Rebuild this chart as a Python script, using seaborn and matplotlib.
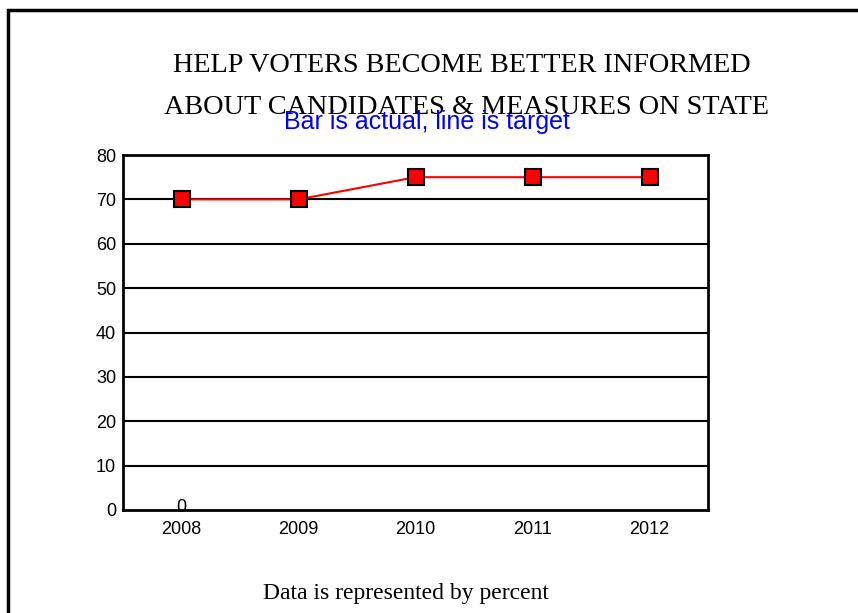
import numpy as np
import pandas as pd
import matplotlib
matplotlib.use("Agg")
import matplotlib.pyplot as plt
from matplotlib.patches import Rectangle
import seaborn as sns

years = ["2008", "2009", "2010", "2011", "2012"]
actual = [0, np.nan, np.nan, np.nan, np.nan]
target = [70, 70, 75, 75, 75]
yticks = [0, 10, 20, 30, 40, 50, 60, 70, 80]

title_lines = ["HELP VOTERS BECOME BETTER INFORMED", "ABOUT CANDIDATES & MEASURES ON STATE"]
subtitle = "Bar is actual, line is target"
footnote = "Data is represented by percent"

sns.set_theme(style="white")
plt.rcParams['font.family'] = ['Liberation Sans', 'DejaVu Sans']

W, H = 858, 613
fig = plt.figure(figsize=(W / 100, H / 100), dpi=100)
ax = fig.add_axes([123 / W, 1 - 510 / H, (708 - 123) / W, (510 - 155) / H])

df = pd.DataFrame({"year": years, "actual": actual, "target": target, "pos": np.arange(len(years))})

sns.barplot(data=df, x="pos", y="actual", color="#3333cc", ax=ax, width=0.5, native_scale=True)
sns.lineplot(data=df, x="pos", y="target", ax=ax, color="red", lw=1.5,
             marker="s", markersize=11, markerfacecolor="red", markeredgecolor="black",
             markeredgewidth=1.5, zorder=5)

for i, v in enumerate(actual):
    if not np.isnan(v):
        ax.annotate(f"{v:g}", (i, v), xytext=(0, 1.5), textcoords="offset points",
                    ha="center", va="center", fontsize=13, color="black", zorder=6,
                    annotation_clip=False)

ax.set_xlim(-0.5, len(years) - 0.5)
ax.set_ylim(0, 80)
ax.set_yticks(yticks)
ax.set_xticks(np.arange(len(years)))
ax.set_xticklabels(years)
ax.tick_params(axis="both", labelsize=13, length=0, colors="black")
ax.tick_params(axis="x", pad=8)
ax.tick_params(axis="y", pad=5)
ax.set_xlabel("")
ax.set_ylabel("")
for y in yticks[1:-1]:
    ax.axhline(y, color="black", lw=1.5, zorder=1)
for s in ax.spines.values():
    s.set_visible(True)
    s.set_color("black")
    s.set_linewidth(2)

serif = ["Liberation Serif", "DejaVu Serif"]
fig.text(462 / W, 1 - 65 / H, title_lines[0], ha="center", va="center",
         family=serif, fontsize=20.3, color="black")
fig.text(466 / W, 1 - 107 / H, title_lines[1], ha="center", va="center",
         family=serif, fontsize=20.3, color="black")
fig.text(427 / W, 1 - 122 / H, subtitle, ha="center", va="center",
         fontsize=18, color="#0000ff")
fig.text(406 / W, 1 - 593 / H, footnote, ha="center", va="center",
         family=serif, fontsize=17, color="black")

fig.patches.append(Rectangle((8 / W, -0.1), 1.2, 1 - 10 / H + 0.1, transform=fig.transFigure,
                             fill=False, edgecolor="black", lw=2.5))

fig.savefig("out.png", dpi=100)
